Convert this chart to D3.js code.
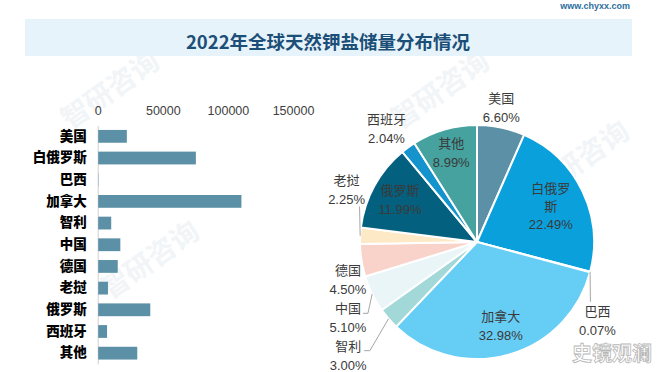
<!DOCTYPE html>
<html>
<head>
<meta charset="utf-8">
<script src="https://cdn.jsdelivr.net/npm/d3@7"></script>
<style>
  html, body { margin: 0; padding: 0; background: #ffffff; }
  svg { display: block; }
</style>
</head>
<body>
<svg id="chart" width="671" height="372"></svg>
<script>
// ---------------- data ----------------
const titleText = "2022年全球天然钾盐储量分布情况";
const categories = ["美国", "白俄罗斯", "巴西", "加拿大", "智利", "中国", "德国", "老挝", "俄罗斯", "西班牙", "其他"];
const reserves = [22000, 75000, 230, 110000, 10000, 17000, 15000, 7500, 40000, 6800, 30000];
const shares = [6.60, 22.49, 0.07, 32.98, 3.00, 5.10, 4.50, 2.25, 11.99, 2.04, 8.99];
const shareLabels = ["6.60%", "22.49%", "0.07%", "32.98%", "3.00%", "5.10%", "4.50%", "2.25%", "11.99%", "2.04%", "8.99%"];
const xTicks = [0, 50000, 100000, 150000];
const sliceColors = ["#5b90a6", "#0aa0dc", "#1592c8", "#66cdf5", "#a3d8d8", "#eaf5f8", "#f9d2ca", "#fde9c6", "#04607f", "#1493cc", "#45a29e"];

// label layout (polar placement around the pie; null angle = slice mid-angle)
const labelNameLines = [["美国"], ["白俄罗", "斯"], ["巴西"], ["加拿大"], ["智利"], ["中国"], ["德国"], ["老挝"], ["俄罗斯"], ["西班牙"], ["其他"]];
const labelAngleDeg = [10.3, null, 123.2, null, 228.5, 239.5, 253.6, 291.7, null, 321.4, null];
const labelRadiusK = [1.16, 0.70, 1.23, 0.75, 1.47, 1.28, 1.15, 1.20, 0.75, 1.24, 0.79];
// leader lines: [dx,dy] points relative to label anchor (after the start at the slice edge)
const leaderPts = [null, null, [[-7, -19]], null, [[21.7, -5.3], [16, -5.3]], [[20, -4.7], [15, -4.7]], null, [[13, 16.5]], null, null, null];

// ---------------- layout ----------------
const svg = d3.select("#chart");

// faint watermarks
const wm = svg.append("g").attr("fill", "#f1f5f8").attr("font-family", "Noto Sans CJK SC").attr("font-weight", 700).attr("font-size", 28);
[[70, 130], [110, 300], [400, 130], [410, 320], [540, 200]].forEach(p => {
  wm.append("text").attr("transform", `translate(${p[0]},${p[1]}) rotate(-35)`).text("智研咨询");
});

// title band
svg.append("rect").attr("x", 25).attr("y", 19).attr("width", 607).attr("height", 37).attr("fill", "#e6f3fa");
svg.append("text")
  .attr("x", 328).attr("y", 41)
  .attr("text-anchor", "middle").attr("dominant-baseline", "central")
  .attr("font-family", "Noto Sans CJK SC").attr("font-weight", 700).attr("font-size", 18.5)
  .attr("fill", "#1b4f78")
  .text(titleText);

// top-right site mark
svg.append("text").attr("x", 630).attr("y", 6).attr("text-anchor", "end").attr("dominant-baseline", "central")
  .attr("font-family", "Liberation Sans").attr("font-weight", 700)
  .attr("font-size", 9).attr("fill", "#2e6f9e").text("www.chyxx.com");

// ---------------- bar chart ----------------
const x = d3.scaleLinear().domain([0, 150000]).range([97.7, 293]);
const y = d3.scaleBand().domain(categories).range([125.5, 364]).paddingInner(0.41).paddingOuter(0.205);

const xAxis = svg.append("g").attr("transform", "translate(0,111)")
  .call(d3.axisTop(x).tickValues(xTicks).tickFormat(d3.format("d")).tickSize(0).tickPadding(0));
xAxis.select(".domain").remove();
xAxis.selectAll("text")
  .attr("dominant-baseline", "central").attr("dy", null).attr("y", 0)
  .attr("font-family", "Liberation Sans").attr("font-size", 12.5).attr("fill", "#404040");

const yAxis = svg.append("g").attr("transform", `translate(${x(0)},0)`)
  .call(d3.axisLeft(y).tickSize(0).tickPadding(11));
yAxis.select(".domain").attr("stroke", "#d0d0d0").attr("stroke-width", 1);
yAxis.selectAll("text")
  .attr("font-family", "Noto Sans CJK SC").attr("font-weight", 900).attr("font-size", 13.5).attr("fill", "#000");

svg.append("g").selectAll("rect").data(categories).join("rect")
  .attr("x", x(0) + 0.5)
  .attr("y", d => y(d))
  .attr("width", (d, i) => x(reserves[i]) - x(0))
  .attr("height", y.bandwidth())
  .attr("fill", "#5b90a6");

// ---------------- pie chart ----------------
const cx = 477, cy = 242, R = 117;
const pie = d3.pie().sort(null).value(d => d)(shares);
const arc = d3.arc().innerRadius(0).outerRadius(R);
const g = svg.append("g").attr("transform", `translate(${cx},${cy})`);

g.selectAll("path").data(pie).join("path")
  .attr("d", arc)
  .attr("fill", (d, i) => sliceColors[i])
  .attr("stroke", "#ffffff").attr("stroke-width", 2).attr("stroke-linejoin", "round");

const polar = (angDeg, rad) => {
  const a = angDeg * Math.PI / 180;
  return [rad * Math.sin(a), -rad * Math.cos(a)];
};

// leader lines
pie.forEach((d, i) => {
  if (!leaderPts[i]) return;
  const mid = (d.startAngle + d.endAngle) / 2 * 180 / Math.PI;
  const start = polar(mid, R);
  const ang = labelAngleDeg[i] == null ? mid : labelAngleDeg[i];
  const anchor = polar(ang, R * labelRadiusK[i]);
  const pts = [start].concat(leaderPts[i].map(p => [anchor[0] + p[0], anchor[1] + p[1]]));
  g.append("path").attr("d", d3.line()(pts)).attr("fill", "none").attr("stroke", "#a6a6a6").attr("stroke-width", 1);
});

// labels
pie.forEach((d, i) => {
  const mid = (d.startAngle + d.endAngle) / 2 * 180 / Math.PI;
  const ang = labelAngleDeg[i] == null ? mid : labelAngleDeg[i];
  const p = polar(ang, R * labelRadiusK[i]);
  const lines = labelNameLines[i].concat([shareLabels[i]]);
  const step = lines.length > 2 ? 17.8 : 19;
  const t = g.append("text")
    .attr("text-anchor", "middle")
    .attr("font-family", "Liberation Sans, Noto Sans CJK SC").attr("font-size", 13).attr("fill", "#3a3a3a");
  lines.forEach((ln, k) => {
    t.append("tspan").attr("x", p[0]).attr("y", p[1] + (k - (lines.length - 1) / 2) * step)
      .attr("dominant-baseline", "central").text(ln);
  });
});

// repost watermark
svg.append("text").attr("x", 612).attr("y", 352).attr("text-anchor", "middle").attr("dominant-baseline", "central")
  .attr("font-family", "Noto Sans CJK SC").attr("font-weight", 700).attr("font-size", 20)
  .attr("fill", "#ffffff").attr("stroke", "#b8b8b8").attr("stroke-width", 0.8).text("史镜观澜");
</script>
</body>
</html>
